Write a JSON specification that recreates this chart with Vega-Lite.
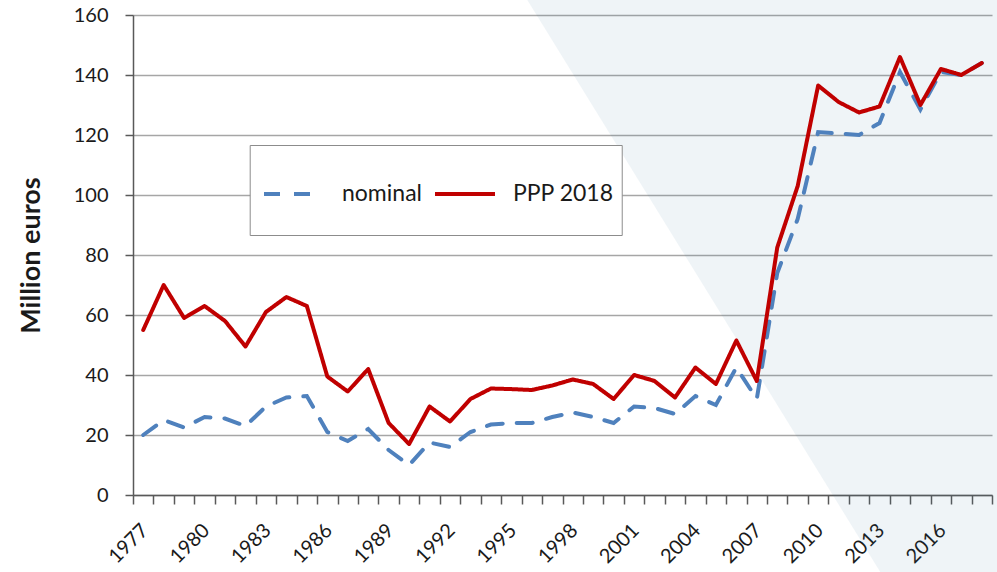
{
  "$schema": "https://vega.github.io/schema/vega-lite/v6.json",
  "autosize": "none",
  "width": 859,
  "height": 480,
  "padding": {"left": 133, "top": 15, "right": 5, "bottom": 77},
  "background": "white",
  "config": {
    "view": {"stroke": null},
    "font": "Lato",
    "axis": {"labelFont": "Lato", "titleFont": "Lato", "labelColor": "#1a1a1a", "titleColor": "#1a1a1a"}
  },
  "datasets": {
    "series": [
      {"year": 1977, "nominal": 20, "PPP 2018": 55},
      {"year": 1978, "nominal": 25, "PPP 2018": 70},
      {"year": 1979, "nominal": 22.5, "PPP 2018": 59},
      {"year": 1980, "nominal": 26, "PPP 2018": 63},
      {"year": 1981, "nominal": 25.5, "PPP 2018": 58},
      {"year": 1982, "nominal": 23, "PPP 2018": 49.5},
      {"year": 1983, "nominal": 29.5, "PPP 2018": 61},
      {"year": 1984, "nominal": 32.5, "PPP 2018": 66},
      {"year": 1985, "nominal": 33, "PPP 2018": 63},
      {"year": 1986, "nominal": 21, "PPP 2018": 39.5},
      {"year": 1987, "nominal": 18, "PPP 2018": 34.5},
      {"year": 1988, "nominal": 22, "PPP 2018": 42},
      {"year": 1989, "nominal": 15, "PPP 2018": 24},
      {"year": 1990, "nominal": 10, "PPP 2018": 17},
      {"year": 1991, "nominal": 17.5, "PPP 2018": 29.5},
      {"year": 1992, "nominal": 16, "PPP 2018": 24.5},
      {"year": 1993, "nominal": 21, "PPP 2018": 32},
      {"year": 1994, "nominal": 23.5, "PPP 2018": 35.5},
      {"year": 1995, "nominal": 24, "PPP 2018": 35.3},
      {"year": 1996, "nominal": 24, "PPP 2018": 35},
      {"year": 1997, "nominal": 26, "PPP 2018": 36.5},
      {"year": 1998, "nominal": 27.5, "PPP 2018": 38.5},
      {"year": 1999, "nominal": 26, "PPP 2018": 37},
      {"year": 2000, "nominal": 24, "PPP 2018": 32},
      {"year": 2001, "nominal": 29.5, "PPP 2018": 40},
      {"year": 2002, "nominal": 29, "PPP 2018": 38},
      {"year": 2003, "nominal": 27, "PPP 2018": 32.5},
      {"year": 2004, "nominal": 33, "PPP 2018": 42.5},
      {"year": 2005, "nominal": 30, "PPP 2018": 37},
      {"year": 2006, "nominal": 42.5, "PPP 2018": 51.5},
      {"year": 2007, "nominal": 32, "PPP 2018": 38},
      {"year": 2008, "nominal": 74, "PPP 2018": 82.5},
      {"year": 2009, "nominal": 92, "PPP 2018": 103},
      {"year": 2010, "nominal": 121, "PPP 2018": 136.5},
      {"year": 2011, "nominal": 120.5, "PPP 2018": 131},
      {"year": 2012, "nominal": 120, "PPP 2018": 127.5},
      {"year": 2013, "nominal": 124, "PPP 2018": 129.5},
      {"year": 2014, "nominal": 141, "PPP 2018": 146},
      {"year": 2015, "nominal": 128.5, "PPP 2018": 130},
      {"year": 2016, "nominal": 141, "PPP 2018": 142},
      {"year": 2017, "nominal": 140, "PPP 2018": 140},
      {"year": 2018, "nominal": 144, "PPP 2018": 144}
    ],
    "shade": [
      {"x": 1995.78, "lo": 165, "hi": 165},
      {"x": 2013.04, "lo": -25.7, "hi": 165},
      {"x": 2018.8, "lo": -25.7, "hi": 165}
    ],
    "box": [
      {"x1": 1982.23, "x2": 2000.42, "y1": 86.5, "y2": 116.5}
    ]
  },
  "layer": [
    {
      "data": {"name": "shade"},
      "mark": {"type": "area", "color": "#37769B", "opacity": 0.08, "interpolate": "linear"},
      "encoding": {
        "x": {"field": "x", "type": "quantitative", "scale": {"domain": [1976.5, 2018.5], "nice": false, "zero": false},
          "axis": {
            "values": [1976.5,1977.5,1978.5,1979.5,1980.5,1981.5,1982.5,1983.5,1984.5,1985.5,1986.5,1987.5,1988.5,1989.5,1990.5,1991.5,1992.5,1993.5,1994.5,1995.5,1996.5,1997.5,1998.5,1999.5,2000.5,2001.5,2002.5,2003.5,2004.5,2005.5,2006.5,2007.5,2008.5,2009.5,2010.5,2011.5,2012.5,2013.5,2014.5,2015.5,2016.5,2017.5,2018.5],
            "tickCount": 60,
            "labelExpr": "((datum.value - 1976.5) % 3 == 0 && datum.value < 2018) ? '' + (datum.value + 0.5) : ''",
            "labelOffset": 11.7,
            "labelAngle": -45,
            "labelAlign": "right",
            "labelBaseline": "middle",
            "labelFontSize": 20,
            "labelPadding": 23,
            "labelOverlap": false,
            "labelFlush": false,
            "labelBound": false,
            "grid": false,
            "domainColor": "#595959",
            "domainWidth": 1.5,
            "tickColor": "#595959",
            "tickWidth": 1.5,
            "tickSize": 9,
            "title": null
          }
        },
        "y": {"field": "lo", "type": "quantitative", "scale": {"domain": [0, 160], "nice": false, "zero": false},
          "axis": {
            "values": [0, 20, 40, 60, 80, 100, 120, 140, 160],
            "grid": true,
            "gridColor": "#A6A6A6",
            "gridWidth": 1.5,
            "domainColor": "#595959",
            "domainWidth": 1.5,
            "tickColor": "#595959",
            "tickWidth": 1.5,
            "tickSize": 8,
            "labelFontSize": 20,
            "labelPadding": 17,
            "title": "Million euros",
            "titleFontSize": 27,
            "titleFontWeight": "bold",
            "titlePadding": 28
          }
        },
        "y2": {"field": "hi"}
      }
    },
    {
      "data": {"name": "box"},
      "mark": {"type": "rect", "fill": "white", "stroke": "#8C8C8C", "strokeWidth": 1},
      "encoding": {
        "x": {"field": "x1", "type": "quantitative"},
        "x2": {"field": "x2"},
        "y": {"field": "y1", "type": "quantitative"},
        "y2": {"field": "y2"}
      }
    },
    {
      "data": {"name": "series"},
      "transform": [{"fold": ["nominal", "PPP 2018"], "as": ["series", "value"]}, {"filter": "datum.series == 'nominal'"}],
      "mark": {"type": "line", "strokeWidth": 4, "strokeCap": "round"},
      "encoding": {
        "x": {"field": "year", "type": "quantitative"},
        "y": {"field": "value", "type": "quantitative"},
        "color": {"field": "series", "type": "nominal", "scale": {"domain": ["nominal", "PPP 2018"], "range": ["#4F81BD", "#C00000"]},
          "legend": {"orient": "none", "legendX": 129, "legendY": 147, "direction": "horizontal", "title": null, "symbolType": "stroke", "symbolSize": 3600, "symbolStrokeWidth": 4, "labelFontSize": 23, "labelFont": "Lato", "labelColor": "#1a1a1a", "labelOffset": 16, "columnPadding": 4, "padding": 0}},
        "strokeDash": {"field": "series", "type": "nominal", "scale": {"domain": ["nominal", "PPP 2018"], "range": [[16, 14], [1, 0]]}}
      }
    },
    {
      "data": {"name": "series"},
      "transform": [{"fold": ["nominal", "PPP 2018"], "as": ["series", "value"]}, {"filter": "datum.series == 'PPP 2018'"}],
      "mark": {"type": "line", "strokeWidth": 4, "strokeCap": "round", "strokeJoin": "round"},
      "encoding": {
        "x": {"field": "year", "type": "quantitative"},
        "y": {"field": "value", "type": "quantitative"},
        "color": {"field": "series", "type": "nominal"},
        "strokeDash": {"field": "series", "type": "nominal"}
      }
    }
  ]
}
